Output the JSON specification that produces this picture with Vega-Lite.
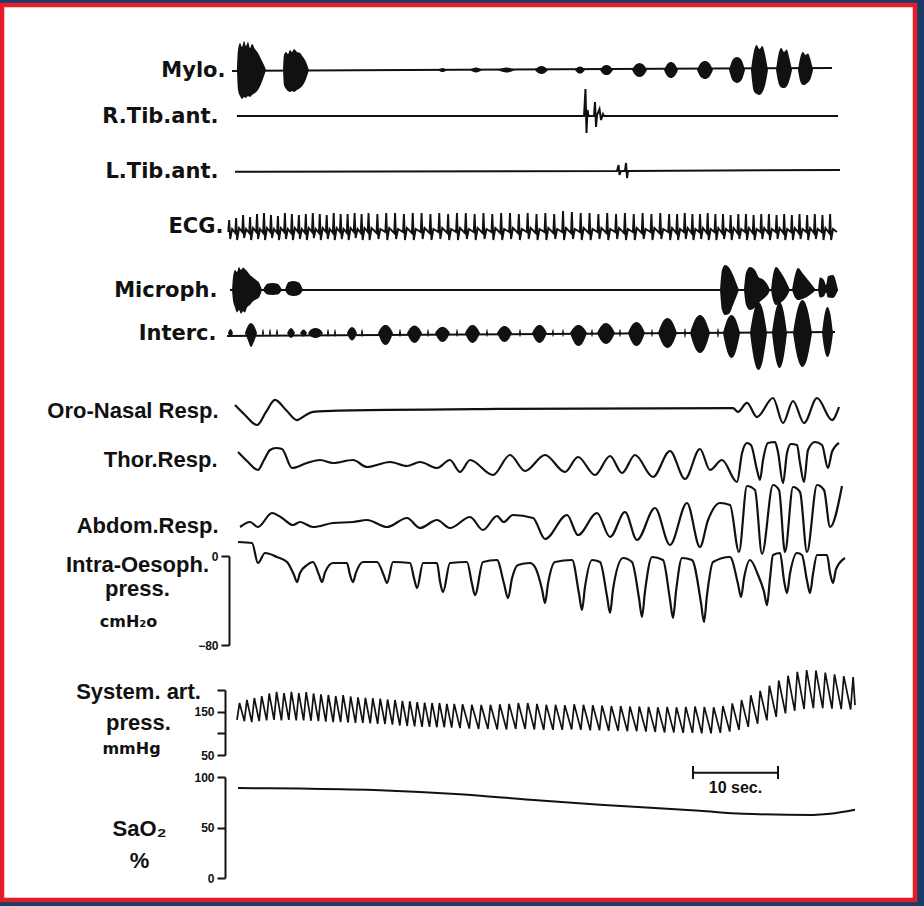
{
"$schema": "https://vega.github.io/schema/vega-lite/v6.json",
"width": 913, "height": 895, "autosize": "none",
"padding": {"left": 2, "top": 5, "right": 9, "bottom": 6},
"background": "#183c6a",
"config": {
 "view": {"fill": "#ffffff", "stroke": "#e41e26", "strokeWidth": 4.5},
 "axis": {"grid": false, "domainColor": "#111", "domainWidth": 2, "tickColor": "#111", "tickWidth": 2, "tickSize": 8,
  "labelFont": "Liberation Sans", "labelFontSize": 12, "labelFontWeight": "bold", "labelColor": "#111", "labelPadding": 3, "labelFlush": false,
  "titleColor": "#111", "titleFontWeight": "bold", "titleAngle": 0}
},
"datasets": {
 "mylo_base": [{"t":0.24,"v":-0.03},{"t":70.82,"v":0.07}],
 "mylo_b": [
  {"b":1,"t":0.82,"v":0,"lo":0},{"b":1,"t":0.94,"v":0.67,"lo":-0.67},{"b":1,"t":1.18,"v":0.9,"lo":-0.87},{"b":1,"t":1.41,"v":0.77,"lo":-0.97},{"b":1,"t":1.65,"v":0.97,"lo":-0.9},{"b":1,"t":1.88,"v":0.8,"lo":-0.93},{"b":1,"t":2.12,"v":0.93,"lo":-0.87},{"b":1,"t":2.35,"v":0.73,"lo":-0.9},{"b":1,"t":2.59,"v":0.87,"lo":-0.83},{"b":1,"t":2.94,"v":0.7,"lo":-0.77},{"b":1,"t":3.29,"v":0.57,"lo":-0.67},{"b":1,"t":3.65,"v":0.37,"lo":-0.47},{"b":1,"t":4.0,"v":0.17,"lo":-0.2},{"b":1,"t":4.24,"v":0,"lo":0},
  {"b":2,"t":6.24,"v":0,"lo":0},{"b":2,"t":6.35,"v":0.5,"lo":-0.5},{"b":2,"t":6.59,"v":0.6,"lo":-0.63},{"b":2,"t":6.82,"v":0.53,"lo":-0.7},{"b":2,"t":7.06,"v":0.67,"lo":-0.73},{"b":2,"t":7.29,"v":0.6,"lo":-0.7},{"b":2,"t":7.53,"v":0.7,"lo":-0.73},{"b":2,"t":7.88,"v":0.6,"lo":-0.67},{"b":2,"t":8.24,"v":0.57,"lo":-0.6},{"b":2,"t":8.59,"v":0.43,"lo":-0.5},{"b":2,"t":8.94,"v":0.27,"lo":-0.3},{"b":2,"t":9.29,"v":0,"lo":0},
  {"b":3,"t":24.47,"v":0,"lo":0},{"b":3,"t":25.0,"v":0.07,"lo":-0.07},{"b":3,"t":25.53,"v":0,"lo":0},
  {"b":4,"t":28.24,"v":0,"lo":0},{"b":4,"t":28.94,"v":0.08,"lo":-0.08},{"b":4,"t":29.65,"v":0,"lo":0},
  {"b":5,"t":31.53,"v":0,"lo":0},{"b":5,"t":32.53,"v":0.08,"lo":-0.08},{"b":5,"t":33.53,"v":0,"lo":0},
  {"b":6,"t":35.88,"v":0,"lo":0},{"b":6,"t":36.26,"v":0.1,"lo":-0.1},{"b":6,"t":36.65,"v":0.13,"lo":-0.13},{"b":6,"t":37.03,"v":0.1,"lo":-0.1},{"b":6,"t":37.41,"v":0,"lo":0},
  {"b":7,"t":40.59,"v":0,"lo":0},{"b":7,"t":40.88,"v":0.09,"lo":-0.09},{"b":7,"t":41.18,"v":0.12,"lo":-0.12},{"b":7,"t":41.47,"v":0.09,"lo":-0.09},{"b":7,"t":41.76,"v":0,"lo":0},
  {"b":8,"t":43.53,"v":0,"lo":0},{"b":8,"t":43.91,"v":0.13,"lo":-0.13},{"b":8,"t":44.29,"v":0.17,"lo":-0.17},{"b":8,"t":44.68,"v":0.13,"lo":-0.13},{"b":8,"t":45.06,"v":0,"lo":0},
  {"b":9,"t":47.29,"v":0,"lo":0},{"b":9,"t":47.74,"v":0.18,"lo":-0.18},{"b":9,"t":48.18,"v":0.23,"lo":-0.23},{"b":9,"t":48.62,"v":0.18,"lo":-0.18},{"b":9,"t":49.06,"v":0,"lo":0},
  {"b":10,"t":51.06,"v":0,"lo":0},{"b":10,"t":51.47,"v":0.21,"lo":-0.21},{"b":10,"t":51.88,"v":0.27,"lo":-0.27},{"b":10,"t":52.29,"v":0.21,"lo":-0.21},{"b":10,"t":52.71,"v":0,"lo":0},
  {"b":11,"t":54.94,"v":0,"lo":0},{"b":11,"t":55.41,"v":0.24,"lo":-0.24},{"b":11,"t":55.88,"v":0.3,"lo":-0.3},{"b":11,"t":56.35,"v":0.24,"lo":-0.24},{"b":11,"t":56.82,"v":0,"lo":0},
  {"b":12,"t":58.71,"v":0,"lo":0},{"b":12,"t":59.18,"v":0.36,"lo":-0.36},{"b":12,"t":59.65,"v":0.43,"lo":-0.43},{"b":12,"t":60.12,"v":0.36,"lo":-0.36},{"b":12,"t":60.59,"v":0,"lo":0},
  {"b":13,"t":61.29,"v":0,"lo":0},{"b":13,"t":61.62,"v":0.6,"lo":-0.7},{"b":13,"t":61.95,"v":0.83,"lo":-0.8},{"b":13,"t":62.29,"v":0.7,"lo":-0.83},{"b":13,"t":62.62,"v":0.8,"lo":-0.75},{"b":13,"t":62.96,"v":0.5,"lo":-0.5},{"b":13,"t":63.29,"v":0,"lo":0},
  {"b":14,"t":64.24,"v":0,"lo":0},{"b":14,"t":64.55,"v":0.55,"lo":-0.45},{"b":14,"t":64.86,"v":0.73,"lo":-0.58},{"b":14,"t":65.18,"v":0.6,"lo":-0.6},{"b":14,"t":65.49,"v":0.68,"lo":-0.55},{"b":14,"t":65.8,"v":0.4,"lo":-0.35},{"b":14,"t":66.12,"v":0,"lo":0},
  {"b":15,"t":66.82,"v":0,"lo":0},{"b":15,"t":67.12,"v":0.45,"lo":-0.4},{"b":15,"t":67.41,"v":0.6,"lo":-0.5},{"b":15,"t":67.71,"v":0.5,"lo":-0.48},{"b":15,"t":68.0,"v":0.55,"lo":-0.42},{"b":15,"t":68.29,"v":0.35,"lo":-0.3},{"b":15,"t":68.59,"v":0,"lo":0}
 ],
 "rtib": [{"t":0.82,"v":0},{"t":41.65,"v":0},{"t":41.82,"v":1.08},{"t":41.94,"v":-0.68},{"t":42.06,"v":0.24},{"t":42.18,"v":0},{"t":42.82,"v":0},{"t":42.94,"v":0.56},{"t":43.06,"v":-0.44},{"t":43.18,"v":0.04},{"t":43.47,"v":0.28},{"t":43.65,"v":-0.16},{"t":43.88,"v":0.08},{"t":44.0,"v":0},{"t":71.53,"v":0}],
 "ltib": [{"t":0.59,"v":-0.07},{"t":45.53,"v":0},{"t":45.71,"v":0.6},{"t":45.82,"v":-0.4},{"t":46.0,"v":0},{"t":46.47,"v":0},{"t":46.59,"v":0.8},{"t":46.71,"v":-0.7},{"t":46.82,"v":0},{"t":71.76,"v":0.1}],
 "ecg": [
  {"t":-0.2,"v":-0.1},{"t":-0.1,"v":0.5},{"t":0.02,"v":-0.45},{"t":0.25,"v":0.05},
  {"t":0.62,"v":-0.15},{"t":0.72,"v":0.6},{"t":0.84,"v":-0.5},{"t":1.07,"v":0.1},
  {"t":1.44,"v":-0.1},{"t":1.54,"v":0.75},{"t":1.66,"v":-0.4},{"t":1.89,"v":0.05},
  {"t":2.26,"v":-0.15},{"t":2.36,"v":0.65},{"t":2.48,"v":-0.5},{"t":2.71,"v":0.1},
  {"t":3.08,"v":-0.1},{"t":3.18,"v":0.8},{"t":3.3,"v":-0.45},{"t":3.53,"v":0.05},
  {"t":3.9,"v":-0.15},{"t":4.0,"v":0.85},{"t":4.12,"v":-0.5},{"t":4.35,"v":0.1},
  {"t":4.72,"v":-0.1},{"t":4.82,"v":0.75},{"t":4.94,"v":-0.4},{"t":5.17,"v":0.05},
  {"t":5.54,"v":-0.15},{"t":5.64,"v":0.7},{"t":5.76,"v":-0.5},{"t":5.99,"v":0.1},
  {"t":6.36,"v":-0.1},{"t":6.46,"v":0.85},{"t":6.58,"v":-0.45},{"t":6.81,"v":0.05},
  {"t":7.18,"v":-0.15},{"t":7.28,"v":0.8},{"t":7.4,"v":-0.5},{"t":7.63,"v":0.1},
  {"t":8.0,"v":-0.1},{"t":8.1,"v":0.75},{"t":8.22,"v":-0.45},{"t":8.45,"v":0.05},
  {"t":8.82,"v":-0.15},{"t":8.92,"v":0.8},{"t":9.04,"v":-0.5},{"t":9.27,"v":0.1},
  {"t":9.64,"v":-0.1},{"t":9.74,"v":0.85},{"t":9.86,"v":-0.4},{"t":10.09,"v":0.05},
  {"t":10.46,"v":-0.15},{"t":10.56,"v":0.8},{"t":10.68,"v":-0.5},{"t":10.91,"v":0.1},
  {"t":11.28,"v":-0.1},{"t":11.38,"v":0.75},{"t":11.5,"v":-0.45},{"t":11.73,"v":0.05},
  {"t":12.1,"v":-0.15},{"t":12.2,"v":0.85},{"t":12.32,"v":-0.5},{"t":12.55,"v":0.1},
  {"t":12.92,"v":-0.1},{"t":13.02,"v":0.8},{"t":13.14,"v":-0.45},{"t":13.37,"v":0.05},
  {"t":13.74,"v":-0.15},{"t":13.84,"v":0.8},{"t":13.96,"v":-0.5},{"t":14.19,"v":0.1},
  {"t":14.56,"v":-0.1},{"t":14.66,"v":0.85},{"t":14.78,"v":-0.4},{"t":15.01,"v":0.05},
  {"t":15.38,"v":-0.15},{"t":15.48,"v":0.8},{"t":15.6,"v":-0.5},{"t":15.83,"v":0.1},
  {"t":16.2,"v":-0.1},{"t":16.3,"v":0.85},{"t":16.42,"v":-0.5},{"t":16.65,"v":0.1},
  {"t":17.24,"v":-0.15},{"t":17.34,"v":0.8},{"t":17.46,"v":-0.45},{"t":17.69,"v":0.05},
  {"t":18.28,"v":-0.1},{"t":18.38,"v":0.85},{"t":18.5,"v":-0.5},{"t":18.73,"v":0.1},
  {"t":19.32,"v":-0.15},{"t":19.42,"v":0.85},{"t":19.54,"v":-0.45},{"t":19.77,"v":0.05},
  {"t":20.36,"v":-0.1},{"t":20.46,"v":0.8},{"t":20.58,"v":-0.5},{"t":20.81,"v":0.1},
  {"t":21.4,"v":-0.15},{"t":21.5,"v":0.85},{"t":21.62,"v":-0.5},{"t":21.85,"v":0.05},
  {"t":22.44,"v":-0.1},{"t":22.54,"v":0.85},{"t":22.66,"v":-0.45},{"t":22.89,"v":0.1},
  {"t":23.48,"v":-0.15},{"t":23.58,"v":0.8},{"t":23.7,"v":-0.5},{"t":23.93,"v":0.05},
  {"t":24.52,"v":-0.1},{"t":24.62,"v":0.85},{"t":24.74,"v":-0.45},{"t":24.97,"v":0.1},
  {"t":25.56,"v":-0.15},{"t":25.66,"v":0.8},{"t":25.78,"v":-0.5},{"t":26.01,"v":0.05},
  {"t":26.6,"v":-0.1},{"t":26.7,"v":0.85},{"t":26.82,"v":-0.5},{"t":27.05,"v":0.1},
  {"t":27.64,"v":-0.15},{"t":27.74,"v":0.85},{"t":27.86,"v":-0.45},{"t":28.09,"v":0.05},
  {"t":28.68,"v":-0.1},{"t":28.78,"v":0.8},{"t":28.9,"v":-0.5},{"t":29.13,"v":0.1},
  {"t":29.72,"v":-0.15},{"t":29.82,"v":0.85},{"t":29.94,"v":-0.45},{"t":30.17,"v":0.05},
  {"t":30.76,"v":-0.1},{"t":30.86,"v":0.8},{"t":30.98,"v":-0.5},{"t":31.21,"v":0.1},
  {"t":31.8,"v":-0.15},{"t":31.9,"v":0.85},{"t":32.02,"v":-0.5},{"t":32.25,"v":0.05},
  {"t":32.84,"v":-0.1},{"t":32.94,"v":0.85},{"t":33.06,"v":-0.45},{"t":33.29,"v":0.1},
  {"t":33.88,"v":-0.15},{"t":33.98,"v":0.8},{"t":34.1,"v":-0.5},{"t":34.33,"v":0.05},
  {"t":34.92,"v":-0.1},{"t":35.02,"v":0.85},{"t":35.14,"v":-0.45},{"t":35.37,"v":0.1},
  {"t":35.96,"v":-0.15},{"t":36.06,"v":0.8},{"t":36.18,"v":-0.5},{"t":36.41,"v":0.05},
  {"t":37.0,"v":-0.1},{"t":37.1,"v":0.85},{"t":37.22,"v":-0.5},{"t":37.45,"v":0.1},
  {"t":38.04,"v":-0.15},{"t":38.14,"v":0.8},{"t":38.26,"v":-0.45},{"t":38.49,"v":0.05},
  {"t":39.08,"v":-0.1},{"t":39.18,"v":0.95},{"t":39.3,"v":-0.5},{"t":39.53,"v":0.1},
  {"t":40.12,"v":-0.15},{"t":40.22,"v":0.9},{"t":40.34,"v":-0.45},{"t":40.57,"v":0.05},
  {"t":41.16,"v":-0.1},{"t":41.26,"v":0.85},{"t":41.38,"v":-0.5},{"t":41.61,"v":0.1},
  {"t":42.2,"v":-0.15},{"t":42.3,"v":0.85},{"t":42.42,"v":-0.5},{"t":42.65,"v":0.05},
  {"t":43.24,"v":-0.1},{"t":43.34,"v":0.8},{"t":43.46,"v":-0.45},{"t":43.69,"v":0.1},
  {"t":44.28,"v":-0.15},{"t":44.38,"v":0.85},{"t":44.5,"v":-0.5},{"t":44.73,"v":0.05},
  {"t":45.32,"v":-0.1},{"t":45.42,"v":0.8},{"t":45.54,"v":-0.45},{"t":45.77,"v":0.1},
  {"t":46.36,"v":-0.15},{"t":46.46,"v":0.85},{"t":46.58,"v":-0.5},{"t":46.81,"v":0.05},
  {"t":47.4,"v":-0.1},{"t":47.5,"v":0.8},{"t":47.62,"v":-0.5},{"t":47.85,"v":0.1},
  {"t":48.44,"v":-0.15},{"t":48.54,"v":0.85},{"t":48.66,"v":-0.45},{"t":48.89,"v":0.05},
  {"t":49.48,"v":-0.1},{"t":49.58,"v":0.8},{"t":49.7,"v":-0.5},{"t":49.93,"v":0.1},
  {"t":50.52,"v":-0.15},{"t":50.62,"v":0.85},{"t":50.74,"v":-0.45},{"t":50.97,"v":0.05},
  {"t":51.56,"v":-0.1},{"t":51.66,"v":0.8},{"t":51.78,"v":-0.5},{"t":52.01,"v":0.1},
  {"t":52.5,"v":-0.15},{"t":52.6,"v":0.8},{"t":52.72,"v":-0.5},{"t":52.95,"v":0.05},
  {"t":53.4,"v":-0.1},{"t":53.5,"v":0.85},{"t":53.62,"v":-0.45},{"t":53.85,"v":0.1},
  {"t":54.3,"v":-0.15},{"t":54.4,"v":0.8},{"t":54.52,"v":-0.5},{"t":54.75,"v":0.05},
  {"t":55.2,"v":-0.1},{"t":55.3,"v":0.8},{"t":55.42,"v":-0.45},{"t":55.65,"v":0.1},
  {"t":56.1,"v":-0.15},{"t":56.2,"v":0.85},{"t":56.32,"v":-0.5},{"t":56.55,"v":0.05},
  {"t":57.0,"v":-0.1},{"t":57.1,"v":0.8},{"t":57.22,"v":-0.5},{"t":57.45,"v":0.1},
  {"t":57.9,"v":-0.15},{"t":58.0,"v":0.8},{"t":58.12,"v":-0.45},{"t":58.35,"v":0.05},
  {"t":58.8,"v":-0.1},{"t":58.9,"v":0.75},{"t":59.02,"v":-0.5},{"t":59.25,"v":0.1},
  {"t":59.7,"v":-0.15},{"t":59.8,"v":0.8},{"t":59.92,"v":-0.45},{"t":60.15,"v":0.05},
  {"t":60.6,"v":-0.1},{"t":60.7,"v":0.8},{"t":60.82,"v":-0.5},{"t":61.05,"v":0.1},
  {"t":61.5,"v":-0.15},{"t":61.6,"v":0.75},{"t":61.72,"v":-0.5},{"t":61.95,"v":0.05},
  {"t":62.4,"v":-0.1},{"t":62.5,"v":0.8},{"t":62.62,"v":-0.45},{"t":62.85,"v":0.1},
  {"t":63.3,"v":-0.15},{"t":63.4,"v":0.8},{"t":63.52,"v":-0.5},{"t":63.75,"v":0.05},
  {"t":64.2,"v":-0.1},{"t":64.3,"v":0.75},{"t":64.42,"v":-0.45},{"t":64.65,"v":0.1},
  {"t":65.1,"v":-0.15},{"t":65.2,"v":0.8},{"t":65.32,"v":-0.5},{"t":65.55,"v":0.05},
  {"t":66.0,"v":-0.1},{"t":66.1,"v":0.75},{"t":66.22,"v":-0.5},{"t":66.45,"v":0.1},
  {"t":66.9,"v":-0.15},{"t":67.0,"v":0.8},{"t":67.12,"v":-0.45},{"t":67.35,"v":0.05},
  {"t":67.8,"v":-0.1},{"t":67.9,"v":0.75},{"t":68.02,"v":-0.5},{"t":68.25,"v":0.1},
  {"t":68.7,"v":-0.15},{"t":68.8,"v":0.8},{"t":68.92,"v":-0.45},{"t":69.15,"v":0.05},
  {"t":69.6,"v":-0.1},{"t":69.7,"v":0.75},{"t":69.82,"v":-0.5},{"t":70.05,"v":0.1},
  {"t":70.5,"v":-0.15},{"t":70.6,"v":0.8},{"t":70.72,"v":-0.5},{"t":70.95,"v":0.05},
  {"t":71.4,"v":-0.1}
 ],
 "mic_base": [{"t":0.0,"v":0},{"t":71.53,"v":0}],
 "mic_b": [
  {"b":1,"t":0.24,"v":0,"lo":0},{"b":1,"t":0.35,"v":0.5,"lo":-0.4},{"b":1,"t":0.59,"v":0.8,"lo":-0.7},{"b":1,"t":0.82,"v":0.72,"lo":-0.9},{"b":1,"t":1.06,"v":0.92,"lo":-0.8},{"b":1,"t":1.29,"v":0.8,"lo":-0.95},{"b":1,"t":1.53,"v":0.9,"lo":-0.85},{"b":1,"t":1.76,"v":0.84,"lo":-0.9},{"b":1,"t":2.0,"v":0.76,"lo":-0.7},{"b":1,"t":2.35,"v":0.6,"lo":-0.6},{"b":1,"t":2.71,"v":0.5,"lo":-0.45},{"b":1,"t":3.06,"v":0.4,"lo":-0.38},{"b":1,"t":3.41,"v":0.3,"lo":-0.3},{"b":1,"t":3.76,"v":0,"lo":0},
  {"b":2,"t":3.88,"v":0,"lo":0},{"b":2,"t":4.4,"v":0.25,"lo":-0.18},{"b":2,"t":5.0,"v":0.28,"lo":-0.2},{"b":2,"t":5.6,"v":0.25,"lo":-0.18},{"b":2,"t":6.12,"v":0,"lo":0},
  {"b":3,"t":6.47,"v":0,"lo":0},{"b":3,"t":6.9,"v":0.32,"lo":-0.2},{"b":3,"t":7.5,"v":0.36,"lo":-0.24},{"b":3,"t":8.1,"v":0.3,"lo":-0.2},{"b":3,"t":8.59,"v":0,"lo":0},
  {"b":4,"t":57.65,"v":0,"lo":0},{"b":4,"t":57.88,"v":0.8,"lo":-0.8},{"b":4,"t":58.24,"v":1.0,"lo":-1.0},{"b":4,"t":58.71,"v":0.9,"lo":-0.95},{"b":4,"t":59.18,"v":0.6,"lo":-0.6},{"b":4,"t":59.65,"v":0.2,"lo":-0.2},{"b":4,"t":59.88,"v":0,"lo":0},
  {"b":5,"t":60.47,"v":0,"lo":0},{"b":5,"t":60.71,"v":0.7,"lo":-0.6},{"b":5,"t":61.18,"v":0.92,"lo":-0.8},{"b":5,"t":61.76,"v":0.8,"lo":-0.7},{"b":5,"t":62.24,"v":0.5,"lo":-0.5},{"b":5,"t":62.59,"v":0.45,"lo":-0.4},{"b":5,"t":62.94,"v":0.35,"lo":-0.3},{"b":5,"t":63.41,"v":0.1,"lo":-0.1},{"b":5,"t":63.53,"v":0,"lo":0},
  {"b":6,"t":63.65,"v":0,"lo":0},{"b":6,"t":63.88,"v":0.6,"lo":-0.4},{"b":6,"t":64.24,"v":0.92,"lo":-0.6},{"b":6,"t":64.82,"v":0.7,"lo":-0.5},{"b":6,"t":65.41,"v":0.35,"lo":-0.3},{"b":6,"t":65.88,"v":0,"lo":0},
  {"b":7,"t":66.12,"v":0,"lo":0},{"b":7,"t":66.47,"v":0.6,"lo":-0.3},{"b":7,"t":66.82,"v":0.88,"lo":-0.4},{"b":7,"t":67.41,"v":0.65,"lo":-0.35},{"b":7,"t":68.0,"v":0.4,"lo":-0.25},{"b":7,"t":68.59,"v":0.15,"lo":-0.1},{"b":7,"t":68.94,"v":0,"lo":0},
  {"b":8,"t":69.18,"v":0,"lo":0},{"b":8,"t":69.41,"v":0.5,"lo":-0.3},{"b":8,"t":69.88,"v":0.4,"lo":-0.25},{"b":8,"t":70.12,"v":0.2,"lo":-0.1},{"b":8,"t":70.35,"v":0.55,"lo":-0.3},{"b":8,"t":70.94,"v":0.6,"lo":-0.32},{"b":8,"t":71.53,"v":0,"lo":0}
 ],
 "int_base": [{"t":-0.35,"v":-0.12},{"t":71.18,"v":0.04}],
 "int_b": [
  {"b":1,"t":-0.24,"v":0,"lo":0},{"b":1,"t":0.06,"v":0.16,"lo":-0.16},{"b":1,"t":0.35,"v":0,"lo":0},
  {"b":2,"t":1.76,"v":0,"lo":0},{"b":2,"t":2.12,"v":0.3,"lo":-0.3},{"b":2,"t":2.47,"v":0.4,"lo":-0.56},{"b":2,"t":2.82,"v":0.3,"lo":-0.35},{"b":2,"t":3.18,"v":0,"lo":0},
  {"b":3,"t":3.76,"v":0,"lo":0},{"b":3,"t":3.88,"v":0.16,"lo":-0.16},{"b":3,"t":4.0,"v":0,"lo":0},
  {"b":4,"t":4.59,"v":0,"lo":0},{"b":4,"t":4.71,"v":0.16,"lo":-0.16},{"b":4,"t":4.82,"v":0,"lo":0},
  {"b":5,"t":5.41,"v":0,"lo":0},{"b":5,"t":5.53,"v":0.16,"lo":-0.16},{"b":5,"t":5.65,"v":0,"lo":0},
  {"b":6,"t":6.71,"v":0,"lo":0},{"b":6,"t":7.18,"v":0.2,"lo":-0.2},{"b":6,"t":7.65,"v":0,"lo":0},
  {"b":7,"t":8.24,"v":0,"lo":0},{"b":7,"t":8.65,"v":0.14,"lo":-0.14},{"b":7,"t":9.06,"v":0,"lo":0},
  {"b":8,"t":9.18,"v":0,"lo":0},{"b":8,"t":9.62,"v":0.16,"lo":-0.16},{"b":8,"t":10.06,"v":0.2,"lo":-0.2},{"b":8,"t":10.5,"v":0.16,"lo":-0.16},{"b":8,"t":10.94,"v":0,"lo":0},
  {"b":9,"t":11.41,"v":0,"lo":0},{"b":9,"t":11.53,"v":0.16,"lo":-0.16},{"b":9,"t":11.65,"v":0,"lo":0},
  {"b":10,"t":12.24,"v":0,"lo":0},{"b":10,"t":12.35,"v":0.16,"lo":-0.16},{"b":10,"t":12.47,"v":0,"lo":0},
  {"b":11,"t":13.76,"v":0,"lo":0},{"b":11,"t":14.06,"v":0.18,"lo":-0.22},{"b":11,"t":14.35,"v":0.24,"lo":-0.3},{"b":11,"t":14.65,"v":0.18,"lo":-0.22},{"b":11,"t":14.94,"v":0,"lo":0},
  {"b":12,"t":15.41,"v":0,"lo":0},{"b":12,"t":15.53,"v":0.16,"lo":-0.16},{"b":12,"t":15.65,"v":0,"lo":0},
  {"b":13,"t":17.41,"v":0,"lo":0},{"b":13,"t":17.85,"v":0.24,"lo":-0.36},{"b":13,"t":18.29,"v":0.32,"lo":-0.48},{"b":13,"t":18.74,"v":0.24,"lo":-0.36},{"b":13,"t":19.18,"v":0,"lo":0},
  {"b":14,"t":19.88,"v":0,"lo":0},{"b":14,"t":20.0,"v":0.16,"lo":-0.16},{"b":14,"t":20.12,"v":0,"lo":0},
  {"b":15,"t":20.82,"v":0,"lo":0},{"b":15,"t":21.26,"v":0.22,"lo":-0.3},{"b":15,"t":21.71,"v":0.3,"lo":-0.4},{"b":15,"t":22.15,"v":0.22,"lo":-0.3},{"b":15,"t":22.59,"v":0,"lo":0},
  {"b":16,"t":23.18,"v":0,"lo":0},{"b":16,"t":23.29,"v":0.16,"lo":-0.16},{"b":16,"t":23.41,"v":0,"lo":0},
  {"b":17,"t":24.12,"v":0,"lo":0},{"b":17,"t":24.56,"v":0.19,"lo":-0.27},{"b":17,"t":25.0,"v":0.25,"lo":-0.36},{"b":17,"t":25.44,"v":0.19,"lo":-0.27},{"b":17,"t":25.88,"v":0,"lo":0},
  {"b":18,"t":26.59,"v":0,"lo":0},{"b":18,"t":26.71,"v":0.16,"lo":-0.16},{"b":18,"t":26.82,"v":0,"lo":0},
  {"b":19,"t":27.65,"v":0,"lo":0},{"b":19,"t":28.09,"v":0.24,"lo":-0.3},{"b":19,"t":28.53,"v":0.32,"lo":-0.4},{"b":19,"t":28.97,"v":0.24,"lo":-0.3},{"b":19,"t":29.41,"v":0,"lo":0},
  {"b":20,"t":30.12,"v":0,"lo":0},{"b":20,"t":30.24,"v":0.16,"lo":-0.16},{"b":20,"t":30.35,"v":0,"lo":0},
  {"b":21,"t":31.41,"v":0,"lo":0},{"b":21,"t":31.85,"v":0.21,"lo":-0.27},{"b":21,"t":32.29,"v":0.28,"lo":-0.36},{"b":21,"t":32.74,"v":0.21,"lo":-0.27},{"b":21,"t":33.18,"v":0,"lo":0},
  {"b":22,"t":34.0,"v":0,"lo":0},{"b":22,"t":34.12,"v":0.16,"lo":-0.16},{"b":22,"t":34.24,"v":0,"lo":0},
  {"b":23,"t":35.53,"v":0,"lo":0},{"b":23,"t":35.97,"v":0.24,"lo":-0.3},{"b":23,"t":36.41,"v":0.32,"lo":-0.4},{"b":23,"t":36.85,"v":0.24,"lo":-0.3},{"b":23,"t":37.29,"v":0,"lo":0},
  {"b":24,"t":37.88,"v":0,"lo":0},{"b":24,"t":38.0,"v":0.16,"lo":-0.16},{"b":24,"t":38.12,"v":0,"lo":0},
  {"b":25,"t":39.06,"v":0,"lo":0},{"b":25,"t":39.18,"v":0.16,"lo":-0.16},{"b":25,"t":39.29,"v":0,"lo":0},
  {"b":26,"t":40.0,"v":0,"lo":0},{"b":26,"t":40.5,"v":0.24,"lo":-0.39},{"b":26,"t":41.0,"v":0.32,"lo":-0.52},{"b":26,"t":41.5,"v":0.24,"lo":-0.39},{"b":26,"t":42.0,"v":0,"lo":0},
  {"b":27,"t":42.47,"v":0,"lo":0},{"b":27,"t":42.59,"v":0.16,"lo":-0.16},{"b":27,"t":42.71,"v":0,"lo":0},
  {"b":28,"t":43.18,"v":0,"lo":0},{"b":28,"t":43.71,"v":0.3,"lo":-0.33},{"b":28,"t":44.24,"v":0.4,"lo":-0.44},{"b":28,"t":44.76,"v":0.3,"lo":-0.33},{"b":28,"t":45.29,"v":0,"lo":0},
  {"b":29,"t":45.76,"v":0,"lo":0},{"b":29,"t":45.88,"v":0.16,"lo":-0.16},{"b":29,"t":46.0,"v":0,"lo":0},
  {"b":30,"t":46.82,"v":0,"lo":0},{"b":30,"t":47.32,"v":0.33,"lo":-0.39},{"b":30,"t":47.82,"v":0.44,"lo":-0.52},{"b":30,"t":48.32,"v":0.33,"lo":-0.39},{"b":30,"t":48.82,"v":0,"lo":0},
  {"b":31,"t":49.53,"v":0,"lo":0},{"b":31,"t":49.65,"v":0.16,"lo":-0.16},{"b":31,"t":49.76,"v":0,"lo":0},
  {"b":32,"t":50.35,"v":0,"lo":0},{"b":32,"t":50.91,"v":0.45,"lo":-0.45},{"b":32,"t":51.47,"v":0.6,"lo":-0.6},{"b":32,"t":52.03,"v":0.45,"lo":-0.45},{"b":32,"t":52.59,"v":0,"lo":0},
  {"b":33,"t":53.41,"v":0,"lo":0},{"b":33,"t":53.53,"v":0.2,"lo":-0.2},{"b":33,"t":53.65,"v":0,"lo":0},
  {"b":34,"t":54.12,"v":0,"lo":0},{"b":34,"t":54.71,"v":0.54,"lo":-0.6},{"b":34,"t":55.29,"v":0.72,"lo":-0.8},{"b":34,"t":55.88,"v":0.54,"lo":-0.6},{"b":34,"t":56.47,"v":0,"lo":0},
  {"b":35,"t":57.29,"v":0,"lo":0},{"b":35,"t":57.41,"v":0.2,"lo":-0.2},{"b":35,"t":57.53,"v":0,"lo":0},
  {"b":36,"t":58.0,"v":0,"lo":0},{"b":36,"t":58.5,"v":0.54,"lo":-0.75},{"b":36,"t":59.0,"v":0.72,"lo":-1.0},{"b":36,"t":59.5,"v":0.54,"lo":-0.75},{"b":36,"t":60.0,"v":0,"lo":0},
  {"b":37,"t":61.18,"v":0,"lo":0},{"b":37,"t":61.68,"v":0.93,"lo":-1.11},{"b":37,"t":62.18,"v":1.24,"lo":-1.48},{"b":37,"t":62.68,"v":0.93,"lo":-1.11},{"b":37,"t":63.18,"v":0,"lo":0},
  {"b":38,"t":63.76,"v":0,"lo":0},{"b":38,"t":64.21,"v":0.93,"lo":-1.05},{"b":38,"t":64.65,"v":1.24,"lo":-1.4},{"b":38,"t":65.09,"v":0.93,"lo":-1.05},{"b":38,"t":65.53,"v":0,"lo":0},
  {"b":39,"t":66.24,"v":0,"lo":0},{"b":39,"t":66.79,"v":0.99,"lo":-1.02},{"b":39,"t":67.35,"v":1.32,"lo":-1.36},{"b":39,"t":67.91,"v":0.99,"lo":-1.02},{"b":39,"t":68.47,"v":0,"lo":0},
  {"b":40,"t":69.65,"v":0,"lo":0},{"b":40,"t":69.97,"v":0.78,"lo":-0.72},{"b":40,"t":70.29,"v":1.04,"lo":-0.96},{"b":40,"t":70.62,"v":0.78,"lo":-0.72},{"b":40,"t":70.94,"v":0,"lo":0}
 ],
 "oro": [{"t":0.59,"v":0.33},{"t":1.76,"v":-0.33},{"t":3.18,"v":-1.0},{"t":4.24,"v":-0.13},{"t":5.29,"v":0.67},{"t":6.59,"v":0.0},{"t":7.88,"v":-0.67},{"t":8.94,"v":-0.33},{"t":9.76,"v":-0.13},{"t":11.18,"v":-0.07},{"t":31.76,"v":0.07},{"t":59.18,"v":0.13},{"t":59.76,"v":-0.13},{"t":60.82,"v":0.47},{"t":62.0,"v":-0.47},{"t":63.88,"v":0.8},{"t":65.06,"v":-0.87},{"t":66.24,"v":0.6},{"t":67.53,"v":-0.87},{"t":69.06,"v":0.8},{"t":70.82,"v":-0.67},{"t":71.65,"v":0.2}],
 "thor": [{"t":0.94,"v":0.35},{"t":2.12,"v":-0.15},{"t":3.29,"v":-0.55},{"t":4.0,"v":-0.05},{"t":4.71,"v":0.45},{"t":5.41,"v":0.55},{"t":6.12,"v":0.5},{"t":7.29,"v":-0.45},{"t":9.06,"v":-0.2},{"t":10.59,"v":-0.05},{"t":12.12,"v":-0.2},{"t":14.47,"v":-0.05},{"t":16.12,"v":-0.4},{"t":18.82,"v":-0.15},{"t":20.82,"v":-0.35},{"t":22.35,"v":-0.15},{"t":24.35,"v":-0.45},{"t":25.88,"v":-0.05},{"t":27.06,"v":-0.65},{"t":28.24,"v":-0.05},{"t":30.94,"v":-0.8},{"t":32.94,"v":0.2},{"t":34.71,"v":-0.6},{"t":37.06,"v":0.2},{"t":39.41,"v":-0.65},{"t":40.94,"v":0.1},{"t":42.94,"v":-0.8},{"t":44.71,"v":0.15},{"t":46.12,"v":-0.7},{"t":47.65,"v":0.2},{"t":49.76,"v":-0.9},{"t":51.76,"v":0.4},{"t":53.53,"v":-1.0},{"t":55.29,"v":0.5},{"t":56.47,"v":-0.55},{"t":57.88,"v":-0.05},{"t":59.65,"v":-1.15},{"t":60.24,"v":0.3},{"t":60.82,"v":0.8},{"t":61.29,"v":0.7},{"t":62.0,"v":-0.55},{"t":62.35,"v":-1.05},{"t":62.71,"v":-0.05},{"t":63.29,"v":0.8},{"t":64.12,"v":0.85},{"t":64.47,"v":0.35},{"t":65.06,"v":-1.2},{"t":65.53,"v":0.3},{"t":66.0,"v":0.75},{"t":66.71,"v":0.7},{"t":67.06,"v":-0.2},{"t":67.53,"v":-1.15},{"t":68.0,"v":0.45},{"t":68.82,"v":0.85},{"t":69.65,"v":0.7},{"t":70.35,"v":-0.45},{"t":70.82,"v":0.35},{"t":71.65,"v":0.8}],
 "abdom": [{"t":1.18,"v":-0.1},{"t":2.35,"v":0.15},{"t":3.29,"v":-0.1},{"t":4.94,"v":0.6},{"t":6.12,"v":0.35},{"t":7.41,"v":0},{"t":8.24,"v":0.15},{"t":9.76,"v":-0.1},{"t":12.12,"v":0.1},{"t":14.47,"v":0.15},{"t":16.12,"v":0.25},{"t":18.47,"v":-0.1},{"t":20.82,"v":0.35},{"t":22.35,"v":-0.15},{"t":24.35,"v":0.25},{"t":25.88,"v":-0.15},{"t":28.24,"v":0.4},{"t":29.76,"v":-0.25},{"t":31.41,"v":0.45},{"t":32.2,"v":0.15},{"t":33.29,"v":0.5},{"t":35.65,"v":0.35},{"t":37.06,"v":-0.7},{"t":39.65,"v":0.5},{"t":40.94,"v":-0.5},{"t":43.18,"v":0.6},{"t":44.71,"v":-0.6},{"t":46.47,"v":0.65},{"t":47.88,"v":-0.75},{"t":50.0,"v":0.85},{"t":51.76,"v":-1.0},{"t":53.76,"v":1.1},{"t":55.29,"v":-1.1},{"t":56.24,"v":0.25},{"t":57.65,"v":1.1},{"t":58.82,"v":1.0},{"t":59.88,"v":-1.35},{"t":60.82,"v":1.95},{"t":61.76,"v":1.75},{"t":62.59,"v":-1.45},{"t":63.88,"v":2.0},{"t":64.59,"v":1.75},{"t":65.29,"v":-1.35},{"t":66.24,"v":1.9},{"t":67.06,"v":1.65},{"t":67.88,"v":-1.35},{"t":69.06,"v":2.0},{"t":69.88,"v":1.75},{"t":70.59,"v":-0.1},{"t":72.0,"v":1.95}],
 "oeso": [{"t":0.94,"v":12.6},{"t":2.59,"v":11.7},{"t":3.29,"v":-6.3},{"t":4.12,"v":2.7},{"t":5.53,"v":-0.9},{"t":6.71,"v":-5.4},{"t":7.53,"v":-17.1},{"t":7.88,"v":-23.4},{"t":8.23,"v":-15.3},{"t":9.06,"v":-8.1},{"t":9.76,"v":-5.4},{"t":10.47,"v":-17},{"t":10.82,"v":-23.4},{"t":11.17,"v":-15},{"t":12.12,"v":-6.3},{"t":13.76,"v":-6.3},{"t":14.12,"v":-17},{"t":14.47,"v":-23.4},{"t":14.82,"v":-15},{"t":15.65,"v":-5.4},{"t":17.29,"v":-5.4},{"t":18.12,"v":-18},{"t":18.47,"v":-24.3},{"t":19.18,"v":-5.4},{"t":21.18,"v":-6.3},{"t":21.65,"v":-20},{"t":22.0,"v":-28.8},{"t":22.71,"v":-6.3},{"t":24.35,"v":-6.3},{"t":24.71,"v":-23},{"t":25.06,"v":-32.4},{"t":25.88,"v":-6.3},{"t":27.88,"v":-5.4},{"t":28.47,"v":-25},{"t":28.82,"v":-35.1},{"t":29.76,"v":-5.4},{"t":31.41,"v":-3.6},{"t":32.24,"v":-25},{"t":32.71,"v":-37.8},{"t":33.18,"v":-20},{"t":33.88,"v":-8.1},{"t":35.29,"v":-6.3},{"t":35.88,"v":-9.9},{"t":36.71,"v":-30},{"t":37.06,"v":-42.3},{"t":37.41,"v":-25},{"t":38.24,"v":-5.4},{"t":40.24,"v":-3.6},{"t":41.06,"v":-34},{"t":41.41,"v":-48.5},{"t":41.76,"v":-28},{"t":42.59,"v":-3.6},{"t":43.53,"v":-5.4},{"t":44.35,"v":-36},{"t":44.71,"v":-51.2},{"t":45.06,"v":-30},{"t":46.24,"v":-1.8},{"t":47.29,"v":-5.4},{"t":48.12,"v":-38},{"t":48.47,"v":-54.8},{"t":48.82,"v":-32},{"t":49.65,"v":-0.9},{"t":50.94,"v":-3.6},{"t":51.76,"v":-39},{"t":52.12,"v":-55.7},{"t":52.47,"v":-32},{"t":53.18,"v":-1.8},{"t":54.35,"v":-3.6},{"t":55.41,"v":-42},{"t":55.76,"v":-59.3},{"t":56.12,"v":-35},{"t":56.82,"v":-5.4},{"t":58.82,"v":-0.9},{"t":59.76,"v":-25},{"t":60.12,"v":-36.9},{"t":60.47,"v":-20},{"t":61.18,"v":-3.6},{"t":62.12,"v":-17.1},{"t":62.82,"v":-32},{"t":63.18,"v":-44.1},{"t":63.53,"v":-20},{"t":63.88,"v":0.9},{"t":64.71,"v":2.7},{"t":65.18,"v":-22},{"t":65.53,"v":-33.3},{"t":65.88,"v":-16},{"t":66.71,"v":2.7},{"t":67.29,"v":0.9},{"t":67.88,"v":-22},{"t":68.24,"v":-33.3},{"t":68.59,"v":-16},{"t":69.06,"v":0.9},{"t":70.24,"v":0.9},{"t":70.59,"v":-15},{"t":70.94,"v":-24.3},{"t":71.29,"v":-12},{"t":72.35,"v":-1.8}],
 "sap": [{"t":0.82,"v":130.8},{"t":1.12,"v":170},{"t":1.69,"v":128},{"t":1.99,"v":177},{"t":2.56,"v":126},{"t":2.86,"v":181.6},{"t":3.43,"v":128},{"t":3.73,"v":186},{"t":4.31,"v":130},{"t":4.61,"v":192},{"t":5.18,"v":131},{"t":5.48,"v":195.5},{"t":6.05,"v":130},{"t":6.35,"v":193},{"t":6.92,"v":131},{"t":7.22,"v":195.5},{"t":7.79,"v":130},{"t":8.09,"v":193},{"t":8.66,"v":130},{"t":8.96,"v":195},{"t":9.53,"v":129},{"t":9.83,"v":192},{"t":10.4,"v":128},{"t":10.7,"v":190},{"t":11.27,"v":127},{"t":11.57,"v":188.5},{"t":12.14,"v":126},{"t":12.44,"v":186},{"t":13.01,"v":126},{"t":13.31,"v":188},{"t":13.89,"v":125},{"t":14.19,"v":185},{"t":14.76,"v":124},{"t":15.06,"v":183},{"t":15.63,"v":124},{"t":15.93,"v":182},{"t":16.5,"v":123},{"t":16.8,"v":181},{"t":17.37,"v":122},{"t":17.67,"v":180},{"t":18.24,"v":121.6},{"t":18.54,"v":178},{"t":19.11,"v":120},{"t":19.41,"v":177},{"t":19.98,"v":118},{"t":20.28,"v":175},{"t":20.85,"v":117},{"t":21.15,"v":174},{"t":21.72,"v":116},{"t":22.02,"v":172},{"t":22.6,"v":115},{"t":22.9,"v":171},{"t":23.47,"v":115},{"t":23.77,"v":170},{"t":24.34,"v":114},{"t":24.64,"v":170},{"t":25.21,"v":114},{"t":25.51,"v":168},{"t":26.08,"v":113},{"t":26.38,"v":168},
  {"t":27.06,"v":112},{"t":27.36,"v":167},{"t":28.15,"v":111},{"t":28.45,"v":166},{"t":29.25,"v":110},{"t":29.55,"v":165.5},{"t":30.34,"v":110},{"t":30.64,"v":166},{"t":31.44,"v":109},{"t":31.74,"v":167},{"t":32.53,"v":109},{"t":32.83,"v":168},{"t":33.62,"v":110},{"t":33.92,"v":170},{"t":34.72,"v":110},{"t":35.02,"v":170},{"t":35.81,"v":109},{"t":36.11,"v":168},{"t":36.91,"v":108},{"t":37.21,"v":166},{"t":38.0,"v":108},{"t":38.3,"v":166},{"t":39.09,"v":108},{"t":39.39,"v":165},{"t":40.19,"v":109},{"t":40.49,"v":167},{"t":41.28,"v":108},{"t":41.58,"v":166},{"t":42.38,"v":107},{"t":42.68,"v":165},{"t":43.47,"v":107},{"t":43.77,"v":164},{"t":44.56,"v":106},{"t":44.86,"v":163},{"t":45.66,"v":106},{"t":45.96,"v":163},{"t":46.75,"v":105},{"t":47.05,"v":162},{"t":47.85,"v":105},{"t":48.15,"v":162},{"t":48.94,"v":104},{"t":49.24,"v":161},{"t":50.03,"v":103},{"t":50.33,"v":160},{"t":51.13,"v":102},{"t":51.43,"v":161},{"t":52.22,"v":102},{"t":52.52,"v":160},{"t":53.32,"v":101},{"t":53.62,"v":161},{"t":54.41,"v":101},{"t":54.71,"v":162},{"t":55.5,"v":100},{"t":55.8,"v":161},{"t":56.6,"v":100},{"t":56.9,"v":160},{"t":57.69,"v":101},{"t":57.99,"v":163},{"t":58.79,"v":104},{"t":59.09,"v":169},{"t":59.88,"v":108},{"t":60.18,"v":177},{"t":60.97,"v":115},{"t":61.27,"v":188},{"t":62.07,"v":122},{"t":62.37,"v":198},{"t":63.16,"v":130},{"t":63.46,"v":210},{"t":64.26,"v":138},{"t":64.56,"v":222},{"t":65.35,"v":146},{"t":65.65,"v":233},{"t":66.44,"v":152},{"t":66.74,"v":242},{"t":67.54,"v":156},{"t":67.84,"v":246},{"t":68.63,"v":158},{"t":68.93,"v":245},{"t":69.73,"v":158},{"t":70.03,"v":240},{"t":70.82,"v":157},{"t":71.12,"v":236},{"t":71.91,"v":156},{"t":72.21,"v":232},{"t":73.01,"v":155},{"t":73.31,"v":230},{"t":73.53,"v":165}],
 "sao2": [{"t":0.94,"v":89},{"t":8.24,"v":88.5},{"t":17.65,"v":87},{"t":27.06,"v":83},{"t":35.29,"v":77.5},{"t":43.53,"v":72.5},{"t":55.29,"v":66.5},{"t":60.35,"v":63.5},{"t":68.59,"v":62.5},{"t":70.59,"v":63.5},{"t":73.53,"v":67.5}],
 "bar": [{"t":54.47,"t2":64.47,"v":104.3,"v2":104.3},{"t":54.47,"t2":54.47,"v":98,"v2":110.9},{"t":64.47,"t2":64.47,"v":98,"v2":110.9}],
 "barlabel": [{"t":59.47,"v":89.5,"label":"10 sec."}]
},
"encoding": {"x": {"field": "t", "type": "quantitative", "scale": {"domain": [-26.824, 80.588], "nice": false, "zero": false}, "axis": null}},
"layer": [
 {"layer": [
  {"data": {"name": "mylo_base"}, "mark": {"type": "line", "color": "#111", "strokeWidth": 2},
   "encoding": {"y": {"field": "v", "type": "quantitative", "scale": {"domain": [-1, 1], "range": [95, 35], "nice": false, "zero": false},
    "axis": {"orient": "left", "offset": -226, "domain": false, "ticks": false, "labels": false, "title": "Mylo.", "titleX": -3, "titleAlign": "right", "titleBaseline": "middle", "titleFont": "DejaVu Sans", "titleFontSize": 21}}}},
  {"data": {"name": "mylo_b"}, "mark": {"type": "area", "color": "#111", "interpolate": "monotone"},
   "encoding": {"y": {"field": "v", "type": "quantitative", "scale": {"domain": [-1, 1], "range": [95, 35], "nice": false, "zero": false}}, "y2": {"field": "lo"}, "detail": {"field": "b", "type": "nominal"}}}
 ]},
 {"data": {"name": "rtib"}, "mark": {"type": "line", "color": "#111", "strokeWidth": 2},
  "encoding": {"y": {"field": "v", "type": "quantitative", "scale": {"domain": [-1, 1], "range": [136, 86], "nice": false, "zero": false},
   "axis": {"orient": "left", "offset": -226, "domain": false, "ticks": false, "labels": false, "title": "R.Tib.ant.", "titleX": -10, "titleAlign": "right", "titleBaseline": "middle", "titleFont": "DejaVu Sans", "titleFontSize": 21}}}},
 {"data": {"name": "ltib"}, "mark": {"type": "line", "color": "#111", "strokeWidth": 2},
  "encoding": {"y": {"field": "v", "type": "quantitative", "scale": {"domain": [-1, 1], "range": [176, 156], "nice": false, "zero": false},
   "axis": {"orient": "left", "offset": -226, "domain": false, "ticks": false, "labels": false, "title": "L.Tib.ant.", "titleX": -10, "titleAlign": "right", "titleBaseline": "middle", "titleFont": "DejaVu Sans", "titleFontSize": 21}}}},
 {"data": {"name": "ecg"}, "mark": {"type": "line", "color": "#111", "strokeWidth": 1.9},
  "encoding": {"y": {"field": "v", "type": "quantitative", "scale": {"domain": [-1, 1], "range": [245, 205], "nice": false, "zero": false},
   "axis": {"orient": "left", "offset": -226, "domain": false, "ticks": false, "labels": false, "title": "ECG.", "titleX": -5, "titleY": 221, "titleAlign": "right", "titleBaseline": "middle", "titleFont": "DejaVu Sans", "titleFontSize": 21}}}},
 {"layer": [
  {"data": {"name": "mic_base"}, "mark": {"type": "line", "color": "#111", "strokeWidth": 2},
   "encoding": {"y": {"field": "v", "type": "quantitative", "scale": {"domain": [-1, 1], "range": [310, 260], "nice": false, "zero": false},
    "axis": {"orient": "left", "offset": -226, "domain": false, "ticks": false, "labels": false, "title": "Microph.", "titleX": -11, "titleAlign": "right", "titleBaseline": "middle", "titleFont": "DejaVu Sans", "titleFontSize": 21}}}},
  {"data": {"name": "mic_b"}, "mark": {"type": "area", "color": "#111", "interpolate": "monotone"},
   "encoding": {"y": {"field": "v", "type": "quantitative", "scale": {"domain": [-1, 1], "range": [310, 260], "nice": false, "zero": false}}, "y2": {"field": "lo"}, "detail": {"field": "b", "type": "nominal"}}}
 ]},
 {"layer": [
  {"data": {"name": "int_base"}, "mark": {"type": "line", "color": "#111", "strokeWidth": 2},
   "encoding": {"y": {"field": "v", "type": "quantitative", "scale": {"domain": [-1, 1], "range": [353, 303], "nice": false, "zero": false},
    "axis": {"orient": "left", "offset": -226, "domain": false, "ticks": false, "labels": false, "title": "Interc.", "titleX": -12, "titleAlign": "right", "titleBaseline": "middle", "titleFont": "DejaVu Sans", "titleFontSize": 21}}}},
  {"data": {"name": "int_b"}, "mark": {"type": "area", "color": "#111", "interpolate": "monotone"},
   "encoding": {"y": {"field": "v", "type": "quantitative", "scale": {"domain": [-1, 1], "range": [353, 303], "nice": false, "zero": false}}, "y2": {"field": "lo"}, "detail": {"field": "b", "type": "nominal"}}}
 ]},
 {"data": {"name": "oro"}, "mark": {"type": "line", "color": "#111", "strokeWidth": 2.2, "interpolate": "monotone"},
  "encoding": {"y": {"field": "v", "type": "quantitative", "scale": {"domain": [-1, 1], "range": [420, 390], "nice": false, "zero": false},
   "axis": {"orient": "left", "offset": -226, "domain": false, "ticks": false, "labels": false, "title": "Oro-Nasal Resp.", "titleX": -10, "titleAlign": "right", "titleBaseline": "middle", "titleFont": "Liberation Sans", "titleFontSize": 22}}}},
 {"data": {"name": "thor"}, "mark": {"type": "line", "color": "#111", "strokeWidth": 2.2, "interpolate": "monotone"},
  "encoding": {"y": {"field": "v", "type": "quantitative", "scale": {"domain": [-1, 1], "range": [474, 434], "nice": false, "zero": false},
   "axis": {"orient": "left", "offset": -226, "domain": false, "ticks": false, "labels": false, "title": "Thor.Resp.", "titleX": -11, "titleAlign": "right", "titleBaseline": "middle", "titleFont": "Liberation Sans", "titleFontSize": 22}}}},
 {"data": {"name": "abdom"}, "mark": {"type": "line", "color": "#111", "strokeWidth": 2.2, "interpolate": "monotone"},
  "encoding": {"y": {"field": "v", "type": "quantitative", "scale": {"domain": [-1, 1], "range": [540, 500], "nice": false, "zero": false},
   "axis": {"orient": "left", "offset": -226, "domain": false, "ticks": false, "labels": false, "title": "Abdom.Resp.", "titleX": -10, "titleAlign": "right", "titleBaseline": "middle", "titleFont": "Liberation Sans", "titleFontSize": 22}}}},
 {"data": {"name": "oeso"}, "mark": {"type": "line", "color": "#111", "strokeWidth": 2.2, "interpolate": "monotone"},
  "encoding": {"y": {"field": "v", "type": "quantitative", "scale": {"domain": [-80, 0], "range": [640, 551], "nice": false, "zero": false},
   "axis": {"orient": "left", "offset": -227, "values": [-80, 0], "title": ["Intra-Oesoph.", "press."], "titleX": -92, "titleY": 566, "titleAlign": "center", "titleBaseline": "alphabetic", "titleLineHeight": 24, "titleFont": "Liberation Sans", "titleFontSize": 22}}}},
 {"data": {"values": [{"t": 0, "v": 0}]}, "mark": {"type": "point", "opacity": 0},
  "encoding": {"y": {"field": "v", "type": "quantitative", "scale": {"domain": [0, 1], "range": [625, 615]},
   "axis": {"orient": "left", "offset": -227, "domain": false, "ticks": false, "labels": false, "title": "cmH₂o", "titleX": -101, "titleY": 621, "titleAlign": "center", "titleBaseline": "alphabetic", "titleFont": "DejaVu Sans", "titleFontSize": 16}}}},
 {"data": {"name": "sap"}, "mark": {"type": "line", "color": "#111", "strokeWidth": 1.7},
  "encoding": {"y": {"field": "v", "type": "quantitative", "scale": {"domain": [50, 200], "range": [750, 685], "nice": false, "zero": false},
   "axis": {"orient": "left", "offset": -223, "values": [50, 100, 150, 200], "labelExpr": "datum.value == 50 || datum.value == 150 ? datum.label : ''", "title": ["System. art.", "press."], "titleX": -87, "titleY": 693, "titleAlign": "center", "titleBaseline": "alphabetic", "titleLineHeight": 31, "titleFont": "Liberation Sans", "titleFontSize": 22}}}},
 {"data": {"values": [{"t": 0, "v": 0}]}, "mark": {"type": "point", "opacity": 0},
  "encoding": {"y": {"field": "v", "type": "quantitative", "scale": {"domain": [0, 1], "range": [760, 750]},
   "axis": {"orient": "left", "offset": -223, "domain": false, "ticks": false, "labels": false, "title": "mmHg", "titleX": -94, "titleY": 748, "titleAlign": "center", "titleBaseline": "alphabetic", "titleFont": "DejaVu Sans", "titleFontSize": 16}}}},
 {"layer": [
  {"data": {"name": "sao2"}, "mark": {"type": "line", "color": "#111", "strokeWidth": 2, "interpolate": "monotone"},
   "encoding": {"y": {"field": "v", "type": "quantitative", "scale": {"domain": [0, 100], "range": [873, 772], "nice": false, "zero": false},
    "axis": {"orient": "left", "offset": -223, "values": [0, 50, 100], "title": ["SaO₂", "%"], "titleX": -86, "titleY": 830, "titleAlign": "center", "titleBaseline": "alphabetic", "titleLineHeight": 32, "titleFont": "Liberation Sans", "titleFontSize": 22}}}},
  {"data": {"name": "bar"}, "mark": {"type": "rule", "color": "#111", "strokeWidth": 2},
   "encoding": {"x2": {"field": "t2"}, "y": {"field": "v", "type": "quantitative", "scale": {"domain": [0, 100], "range": [873, 772], "nice": false, "zero": false}}, "y2": {"field": "v2"}}},
  {"data": {"name": "barlabel"}, "mark": {"type": "text", "color": "#111", "font": "Liberation Sans", "fontWeight": "bold", "fontSize": 16, "align": "center", "baseline": "middle"},
   "encoding": {"text": {"field": "label"}, "y": {"field": "v", "type": "quantitative", "scale": {"domain": [0, 100], "range": [873, 772], "nice": false, "zero": false}}}}
 ]}
],
"resolve": {"scale": {"y": "independent"}, "axis": {"y": "independent"}}
}
